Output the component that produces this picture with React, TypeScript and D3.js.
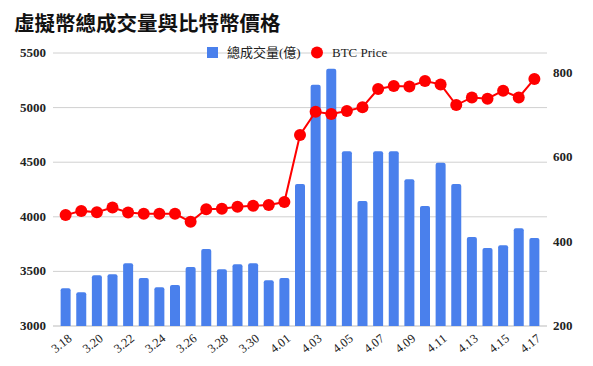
import React, { useEffect, useRef } from 'react';
import * as d3 from 'd3';

const dates = [
  '3.18', '3.19', '3.20', '3.21', '3.22', '3.23', '3.24', '3.25', '3.26', '3.27', '3.28',
  '3.29', '3.30', '3.31', '4.01', '4.02', '4.03', '4.04', '4.05', '4.06', '4.07', '4.08',
  '4.09', '4.10', '4.11', '4.12', '4.13', '4.14', '4.15', '4.16', '4.17',
];
const volume = [
  3345, 3310, 3465, 3475, 3575, 3440, 3355, 3375, 3540, 3705, 3520,
  3565, 3575, 3420, 3440, 4300, 5210, 5355, 4600, 4145, 4600, 4600,
  4345, 4100, 4495, 4300, 3815, 3715, 3740, 3895, 3805,
];
const btcPrice = [
  463, 473, 470, 481, 469, 466, 466, 466, 447, 477, 478,
  483, 485, 487, 494, 653, 708, 703, 710, 719, 762, 769,
  768, 781, 773, 724, 742, 739, 758, 742, 786,
];
const dateLabels = ['3.18', '3.20', '3.22', '3.24', '3.26', '3.28', '3.30', '4.01', '4.03',
  '4.05', '4.07', '4.09', '4.11', '4.13', '4.15', '4.17'];
const leftTicks = [3000, 3500, 4000, 4500, 5000, 5500];
const rightTicks = [200, 400, 600, 800];

const App: React.FC = () => {
  const ref = useRef<SVGSVGElement | null>(null);

  useEffect(() => {
    if (!ref.current) return;
    const svg = d3.select(ref.current);
    svg.selectAll('*').remove();

    const left = 55, right = 545, top = 53, bottom = 326;

    const x = d3.scaleBand().domain(dates).range([left, right]).padding(0.36);
    const yL = d3.scaleLinear().domain([3000, 5500]).range([bottom, top]);
    const yR = d3.scaleLinear().domain([200, 800]).range([bottom, 73]);

    // title
    svg.append('text')
      .attr('x', 14).attr('y', 31)
      .style('font-family', '"Noto Sans CJK TC", sans-serif')
      .style('font-weight', 'bold')
      .style('font-size', '20.5px')
      .attr('fill', '#111')
      .text('虛擬幣總成交量與比特幣價格');

    // gridlines
    svg.append('g').selectAll('line')
      .data(leftTicks).enter().append('line')
      .attr('x1', left - 2).attr('x2', right + 2)
      .attr('y1', d => yL(d)).attr('y2', d => yL(d))
      .attr('stroke', d => (d === 3000 ? '#bbb' : '#d0d0d0'))
      .attr('stroke-width', 1);

    const axisText = (sel: any) => sel
      .style('font-family', '"Liberation Serif", serif')
      .style('font-weight', 'bold')
      .style('font-size', '13px')
      .attr('fill', '#222');

    // left axis labels
    svg.append('g').selectAll('text')
      .data(leftTicks).enter().append('text')
      .attr('x', 46).attr('y', d => yL(d) + 4)
      .attr('text-anchor', 'end')
      .call(axisText)
      .text(d => d);

    // right axis labels
    svg.append('g').selectAll('text')
      .data(rightTicks).enter().append('text')
      .attr('x', 553).attr('y', d => yR(d) + 4)
      .attr('text-anchor', 'start')
      .call(axisText)
      .text(d => d);

    // bars
    svg.append('g').selectAll('path')
      .data(volume).enter().append('path')
      .attr('fill', '#4a80ec')
      .attr('d', (d, i) => {
        const x0 = x(dates[i])!, w = x.bandwidth(), y0 = yL(d), r = 2;
        return `M${x0},${bottom}V${y0 + r}Q${x0},${y0} ${x0 + r},${y0}H${x0 + w - r}Q${x0 + w},${y0} ${x0 + w},${y0 + r}V${bottom}Z`;
      });

    // price line
    const cx = (i: number) => x(dates[i])! + x.bandwidth() / 2;
    const line = d3.line<number>().x((d, i) => cx(i)).y(d => yR(d));
    svg.append('path')
      .datum(btcPrice)
      .attr('d', line)
      .attr('fill', 'none')
      .attr('stroke', '#ff0000')
      .attr('stroke-width', 2);
    svg.append('g').selectAll('circle')
      .data(btcPrice).enter().append('circle')
      .attr('cx', (d, i) => cx(i)).attr('cy', d => yR(d))
      .attr('r', 6)
      .attr('fill', '#ff0000');

    // x labels
    svg.append('g').selectAll('text')
      .data(dateLabels)
      .enter().append('text')
      .attr('transform', d => `translate(${cx(dates.indexOf(d)) + 7},${bottom + 14}) rotate(-38)`)
      .attr('text-anchor', 'end')
      .style('font-family', '"Liberation Serif", serif')
      .style('font-size', '12.5px')
      .attr('fill', '#222')
      .text(d => d);

    // legend
    const lg = svg.append('g');
    lg.append('rect').attr('x', 207).attr('y', 47).attr('width', 11).attr('height', 11).attr('fill', '#4a80ec');
    lg.append('text').attr('x', 227).attr('y', 57)
      .style('font-family', '"Liberation Serif", "Noto Sans CJK TC", serif')
      .style('font-size', '13px').attr('fill', '#222')
      .text('總成交量(億)');
    lg.append('circle').attr('cx', 317).attr('cy', 52.5).attr('r', 6).attr('fill', '#ff0000');
    lg.append('text').attr('x', 332).attr('y', 57)
      .style('font-family', '"Liberation Serif", serif')
      .style('font-size', '13px').attr('fill', '#222')
      .text('BTC Price');
  }, []);

  return <svg ref={ref} width={593} height={366} style={{ position: 'absolute', left: 0, top: 0, background: '#fff' }} />;
};

export default App;
